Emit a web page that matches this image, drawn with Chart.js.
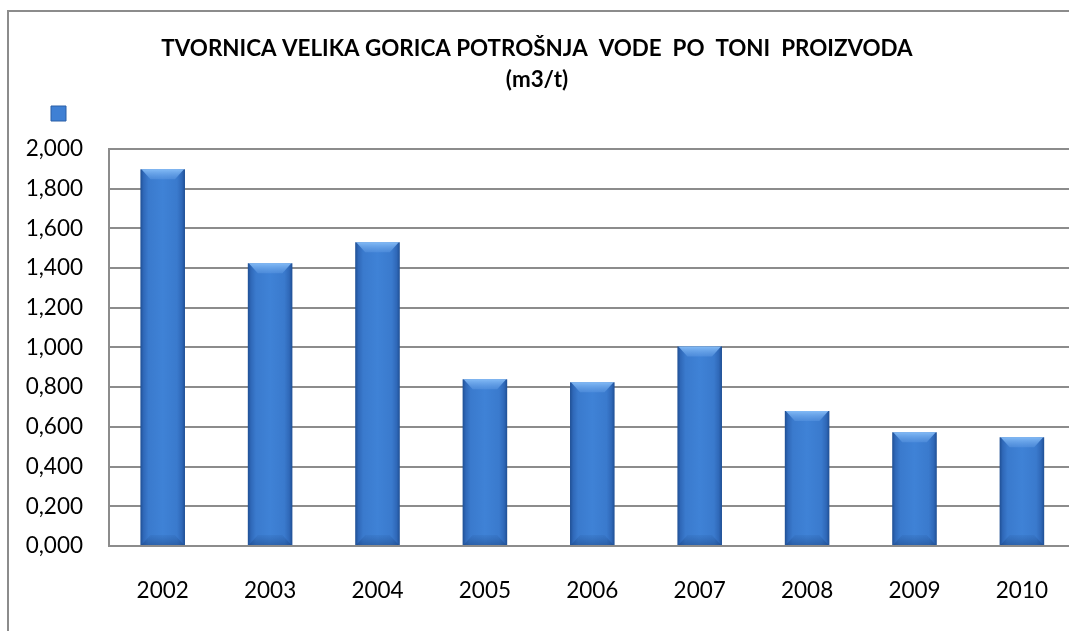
<!DOCTYPE html>
<html>
<head>
<meta charset="utf-8">
<script src="https://cdn.jsdelivr.net/npm/chart.js@4/dist/chart.umd.min.js"></script>
<style>
    html, body { margin: 0; padding: 0; background: #fff; overflow: hidden; }
    body { width: 1069px; height: 631px; position: relative; }
    #frame {
        position: absolute; left: 7px; top: 10px;
        width: 1100px; height: 700px;
        border: 2px solid #8c8c8c;
    }
    #vodaChart { position: absolute; left: -5px; top: 0; }
</style>
</head>
<body>
<div id="frame"></div>
<canvas id="vodaChart" width="1084" height="640"></canvas>
<script>
// Podaci: potrošnja vode po toni proizvoda (m3/t)
const godine = ['2002', '2003', '2004', '2005', '2006', '2007', '2008', '2009', '2010'];
const potrosnja = [1.897, 1.424, 1.530, 0.840, 0.825, 1.004, 0.680, 0.573, 0.548];
const naslov = ['TVORNICA VELIKA GORICA POTROŠNJA  VODE  PO  TONI  PROIZVODA', '(m3/t)'];
const yMin = 0;
const yMax = 2;
const yKorak = 0.2;

const barPct = 0.415;

// horizontal gradient per bar (dark edges, lighter middle)
function barGradient(context) {
    const chart = context.chart;
    if (!chart.chartArea || !chart.scales.x) return '#3b7bd0';
    const xs = chart.scales.x;
    const cx = xs.getPixelForValue(context.dataIndex);
    const half = (chart.chartArea.width / godine.length) * barPct / 2;
    const g = chart.ctx.createLinearGradient(cx - half, 0, cx + half, 0);
    g.addColorStop(0, '#1f4f94');
    g.addColorStop(0.07, '#2f68b8');
    g.addColorStop(0.18, '#3a7acd');
    g.addColorStop(0.5, '#3f82d6');
    g.addColorStop(0.82, '#3a7acd');
    g.addColorStop(0.93, '#2f68b8');
    g.addColorStop(1, '#1f4f94');
    return g;
}

// bevel on top / bottom of each bar, drawn from the bar elements themselves
const bevelPlugin = {
    id: 'bevel',
    afterDatasetsDraw(chart) {
        const ctx = chart.ctx;
        const meta = chart.getDatasetMeta(0);
        meta.data.forEach(bar => {
            const l = bar.x - bar.width / 2;
            const r = bar.x + bar.width / 2;
            const t = bar.y;
            const b = bar.base;
            const s = 10;
            ctx.save();
            // top face, lighter
            let g = ctx.createLinearGradient(0, t, 0, t + s);
            g.addColorStop(0, 'rgba(135,190,248,0.95)');
            g.addColorStop(1, 'rgba(90,150,225,0.55)');
            ctx.fillStyle = g;
            ctx.beginPath();
            ctx.moveTo(l + 1, t);
            ctx.lineTo(r - 1, t);
            ctx.lineTo(r - s, t + s);
            ctx.lineTo(l + s, t + s);
            ctx.closePath();
            ctx.fill();
            // bottom face, slightly darker
            g = ctx.createLinearGradient(0, b - s, 0, b);
            g.addColorStop(0, 'rgba(30,75,140,0.1)');
            g.addColorStop(1, 'rgba(25,65,125,0.45)');
            ctx.fillStyle = g;
            ctx.beginPath();
            ctx.moveTo(l + 1, b);
            ctx.lineTo(r - 1, b);
            ctx.lineTo(r - s, b - s);
            ctx.lineTo(l + s, b - s);
            ctx.closePath();
            ctx.fill();
            ctx.restore();
        });
    }
};

// move the (text-less) legend box to the left corner, under the title
const legendPlace = {
    id: 'legendPlace',
    afterLayout(chart) {
        const lg = chart.legend;
        const w = lg.right - lg.left;
        lg.left = 46;
        lg.right = lg.left + w;
        lg.top = 96;
    }
};

const ctx = document.getElementById('vodaChart').getContext('2d');

window.vodaChart = new Chart(ctx, {
    type: 'bar',
    data: {
        labels: godine,
        datasets: [{
            label: '',
            data: potrosnja,
            backgroundColor: barGradient,
            borderWidth: 0,
            barPercentage: barPct,
            categoryPercentage: 1
        }]
    },
    options: {
        responsive: false,
        animation: false,
        devicePixelRatio: 1,
        layout: { padding: 0 },
        plugins: {
            title: {
                display: true,
                text: naslov,
                color: '#000',
                font: { family: 'Lato', size: 22.4, weight: 'bold', lineHeight: 1.38 },
                padding: { top: 33, bottom: 19 }
            },
            legend: {
                display: true,
                position: 'top',
                align: 'start',
                labels: {
                    boxWidth: 15,
                    boxHeight: 15,
                    padding: 10,
                    font: { size: 12 },
                    generateLabels: function () {
                        return [{
                            text: '',
                            fillStyle: '#3f80d4',
                            strokeStyle: '#2b5fa6',
                            lineWidth: 1,
                            datasetIndex: 0
                        }];
                    }
                }
            },
            tooltip: { enabled: false }
        },
        scales: {
            x: {
                grid: { display: false, drawTicks: false },
                border: { display: true, color: '#8c8c8c', width: 2 },
                ticks: {
                    color: '#000',
                    padding: 31,
                    font: { family: 'Lato', size: 22.5 }
                },
                afterFit: function (scale) { scale.height = 94; }
            },
            y: {
                min: yMin,
                max: yMax,
                grid: { color: '#8c8c8c', lineWidth: 2, drawTicks: false },
                border: { display: true, color: '#8c8c8c', width: 2 },
                ticks: {
                    stepSize: yKorak,
                    color: '#000',
                    padding: 26,
                    font: { family: 'Lato', size: 22.5 },
                    callback: function (value) {
                        return Number(value).toFixed(3).replace('.', ',');
                    }
                },
                afterFit: function (scale) { scale.width = 114; }
            }
        }
    },
    plugins: [bevelPlugin, legendPlace]
});
</script>
</body>
</html>
